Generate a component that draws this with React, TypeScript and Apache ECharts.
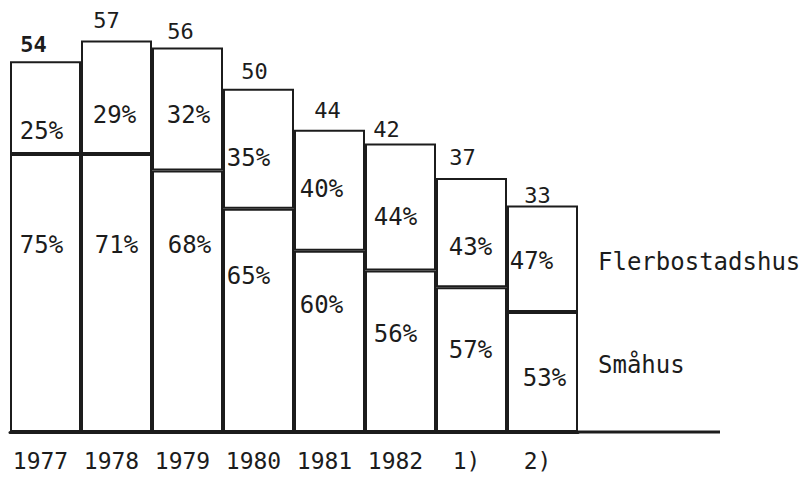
import React, { useEffect, useRef } from "react";
import * as echarts from "echarts";

const categories = ["1977", "1978", "1979", "1980", "1981", "1982", "1)", "2)"];
const totals = [54, 57, 56, 50, 44, 42, 37, 33];
const smahusPct = [75, 71, 68, 65, 60, 56, 57, 53];
const flerPct = [25, 29, 32, 35, 40, 44, 43, 47];
const seriesNames = ["Småhus", "Flerbostadshus"];

// label placement tweaks (styling only)
const flerLabelOffset = [[-4, 23], [-2, 18], [1, 6], [-10, 9], [-8, -1], [-5, 10], [-1, 14], [-11, 2]];
const smaLabelOffset = [[-4, -48], [0, -48], [2, -56], [-10, -44], [-8, -36], [-5, -17], [-1, -10], [2, 6]];
const totalLabelOffset = [[-12, -6], [-10, -9], [-7, -5], [-4, -6], [-2, -8], [-14, -3], [-9, -9], [-5, 1]];

const FONT = "'DejaVu Sans Mono', monospace";
const INK = "#1c1c1c";

export default function App() {
  const ref = useRef<HTMLDivElement>(null);

  useEffect(() => {
    if (!ref.current) return;
    const chart = echarts.init(ref.current, null, { renderer: "svg" });

    const smaValues = totals.map((t, i) => (t * smahusPct[i]) / 100);
    const flerValues = totals.map((t, i) => t - smaValues[i]);

    const barStyle = { color: "#ffffff", borderColor: INK, borderWidth: 2 };

    chart.setOption({
      animation: false,
      backgroundColor: "#ffffff",
      grid: { left: 10, right: 228, top: 20, bottom: 46 },
      xAxis: {
        type: "category",
        data: categories,
        boundaryGap: true,
        axisLine: { show: true, lineStyle: { color: INK, width: 3 } },
        axisTick: { show: false },
        axisLabel: {
          interval: 0,
          color: INK,
          fontFamily: FONT,
          fontSize: 23,
          margin: 17,
          padding: [0, 10, 0, 0],
        },
      },
      yAxis: {
        type: "value",
        min: 0,
        max: 60,
        show: false,
        splitLine: { show: false },
      },
      series: [
        {
          name: seriesNames[0],
          type: "bar",
          stack: "total",
          barCategoryGap: "0%",
          itemStyle: barStyle,
          data: smaValues.map((v, i) => ({
            value: v,
            label: {
              show: true,
              position: "inside",
              offset: smaLabelOffset[i],
              formatter: () => `${smahusPct[i]}%`,
              color: INK,
              fontFamily: FONT,
              fontSize: 24,
            },
          })),
        },
        {
          name: seriesNames[1],
          type: "bar",
          stack: "total",
          barCategoryGap: "0%",
          itemStyle: barStyle,
          data: flerValues.map((v, i) => ({
            value: v,
            label: {
              show: true,
              position: "inside",
              offset: flerLabelOffset[i],
              formatter: () => `${flerPct[i]}%`,
              color: INK,
              fontFamily: FONT,
              fontSize: 24,
            },
          })),
        },
        {
          name: "Totalt",
          type: "scatter",
          symbolSize: 0,
          silent: true,
          itemStyle: { color: INK, opacity: 1 },
          data: totals.map((t, i) => ({
            value: t,
            label: {
              show: true,
              position: "top",
              distance: 0,
              offset: totalLabelOffset[i],
              formatter: "{c}",
              color: INK,
              opacity: 1,
              fontFamily: FONT,
              fontSize: 22,
              fontWeight: i === 0 ? "bold" : "normal",
            },
          })),
        },
      ],
      graphic: [
        {
          type: "line",
          shape: { x1: 576, y1: 432, x2: 720, y2: 432 },
          style: { stroke: INK, lineWidth: 3 },
        },
        {
          type: "text",
          left: 598,
          top: 250,
          style: { text: seriesNames[1], fill: INK, font: `24px ${FONT}` },
        },
        {
          type: "text",
          left: 598,
          top: 353,
          style: { text: seriesNames[0], fill: INK, font: `24px ${FONT}` },
        },
      ],
    });

    return () => chart.dispose();
  }, []);

  return (
    <div
      ref={ref}
      style={{ position: "absolute", left: 0, top: 0, width: 806, height: 478 }}
    />
  );
}
